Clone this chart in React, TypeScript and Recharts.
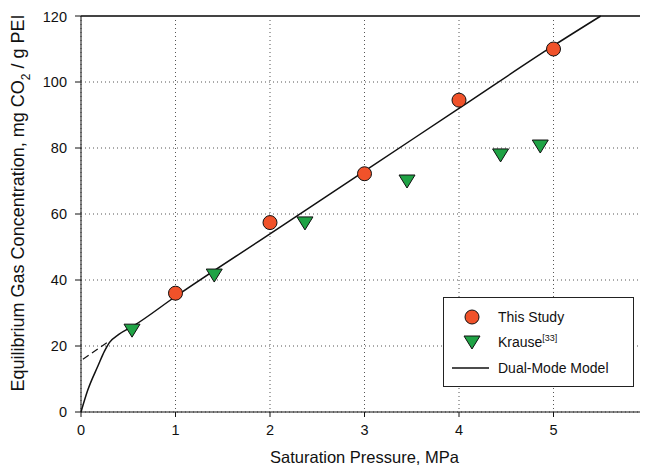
import { ComposedChart, Line, Scatter, XAxis, YAxis, CartesianGrid, ReferenceLine } from 'recharts';

// This Study
const studyP = [1, 2, 3, 4, 5];
const studyC = [36, 57.4, 72.2, 94.5, 110];

// Krause [33]
const krauseP = [0.54, 1.41, 2.37, 3.45, 4.44, 4.86];
const krauseC = [24.8, 41.5, 57.3, 70, 77.9, 80.6];

// Dual-mode model curve
const modelP = [0, 0.07, 0.18, 0.25, 0.3, 0.4, 0.55, 1, 2, 3, 4, 5, 5.5];
const modelC = [0, 6.5, 14, 18.5, 21, 23.5, 26, 35, 54, 73, 92, 111, 120];

// dashed Henry-law extrapolation near origin
const dashP = [0.02, 0.3];
const dashC = [16, 21.5];

const xTicks = [0, 1, 2, 3, 4, 5, 6];
const yTicks = [0, 20, 40, 60, 80, 100, 120];

const FONT = "Arial, 'Liberation Sans', sans-serif";
const ORANGE = '#F0522A';
const GREEN = '#1FA345';

const zip = (xs: number[], ys: number[]) => xs.map((x, i) => ({ x, y: ys[i] }));

const studyData = zip(studyP, studyC);
const krauseData = zip(krauseP, krauseC);
const modelData = zip(modelP, modelC);
const dashData = zip(dashP, dashC);

const DownTriangle = (props: any) => {
  const { cx, cy } = props;
  if (cx == null || cy == null) return null;
  return (
    <polygon
      points={`${cx - 8},${cy - 6} ${cx + 8},${cy - 6} ${cx},${cy + 7}`}
      fill={GREEN}
      stroke="#111"
      strokeWidth={1}
    />
  );
};

const Dot = (props: any) => {
  const { cx, cy } = props;
  if (cx == null || cy == null) return null;
  return <circle cx={cx} cy={cy} r={7} fill={ORANGE} stroke="#111" strokeWidth={1} />;
};

const LegendBox = () => (
  <div
    style={{
      position: 'absolute',
      left: 435,
      top: 289,
      border: '1.5px solid #222',
      background: '#fff',
      width: 191,
      height: 90,
      fontFamily: FONT,
      fontSize: 14,
      color: '#111',
      boxSizing: 'border-box',
      paddingTop: 6,
    }}
  >
    <div style={{ display: 'flex', alignItems: 'center', height: 25 }}>
      <svg width={54} height={20}>
        <circle cx={28} cy={10} r={7} fill={ORANGE} stroke="#111" strokeWidth={1} />
      </svg>
      <span>This Study</span>
    </div>
    <div style={{ display: 'flex', alignItems: 'center', height: 25 }}>
      <svg width={54} height={20}>
        <polygon points="20,4 36,4 28,17" fill={GREEN} stroke="#111" strokeWidth={1} />
      </svg>
      <span>
        Krause<sup style={{ fontSize: 9 }}>[33]</sup>
      </span>
    </div>
    <div style={{ display: 'flex', alignItems: 'center', height: 27 }}>
      <svg width={54} height={20}>
        <line x1={8} x2={45} y1={10} y2={10} stroke="#111" strokeWidth={1.5} />
      </svg>
      <span>Dual-Mode Model</span>
    </div>
  </div>
);

const YLabel = () => (
  <text
    x={16}
    y={195}
    transform="rotate(-90 16 195)"
    textAnchor="middle"
    fontFamily={FONT}
    fontSize={18}
    fill="#111"
  >
    Equilibrium Gas Concentration, mg CO
    <tspan dy={6} fontSize={12}>2</tspan>
    <tspan dy={-6}> / g PEI</tspan>
  </text>
);

export default function App() {
  return (
    <div style={{ position: 'relative', width: 640, height: 461, overflow: 'hidden' }}>
      <ComposedChart
        width={660}
        height={461}
        margin={{ top: 8, right: 20, bottom: 0, left: 0 }}
      >
        <CartesianGrid strokeDasharray="1 3" stroke="#555" />
        <XAxis
          type="number"
          dataKey="x"
          domain={[0, 6]}
          ticks={xTicks}
          height={57}
          tickSize={5}
          tickMargin={8}
          stroke="#111"
          tick={{ fontFamily: FONT, fontSize: 14.5, fill: '#111' }}
          label={{
            value: 'Saturation Pressure, MPa',
            position: 'insideBottom',
            offset: 6,
            style: { fontFamily: FONT, fontSize: 16.5, fill: '#111' },
          }}
        />
        <YAxis
          type="number"
          dataKey="y"
          domain={[0, 120]}
          ticks={yTicks}
          width={73}
          tickSize={6}
          tickMargin={8}
          stroke="#111"
          tick={{ fontFamily: FONT, fontSize: 14.5, fill: '#111' }}
          label={<YLabel />}
        />
        <ReferenceLine y={120} stroke="#444" strokeWidth={2} />
        <Line
          data={dashData}
          dataKey="y"
          type="linear"
          stroke="#111"
          strokeWidth={1.2}
          strokeDasharray="7 4"
          dot={false}
          isAnimationActive={false}
        />
        <Line
          data={modelData}
          dataKey="y"
          type="monotone"
          stroke="#111"
          strokeWidth={1.5}
          dot={false}
          isAnimationActive={false}
        />
        <Scatter data={studyData} dataKey="y" shape={<Dot />} isAnimationActive={false} />
        <Scatter data={krauseData} dataKey="y" shape={<DownTriangle />} isAnimationActive={false} />
      </ComposedChart>
      <LegendBox />
    </div>
  );
}
